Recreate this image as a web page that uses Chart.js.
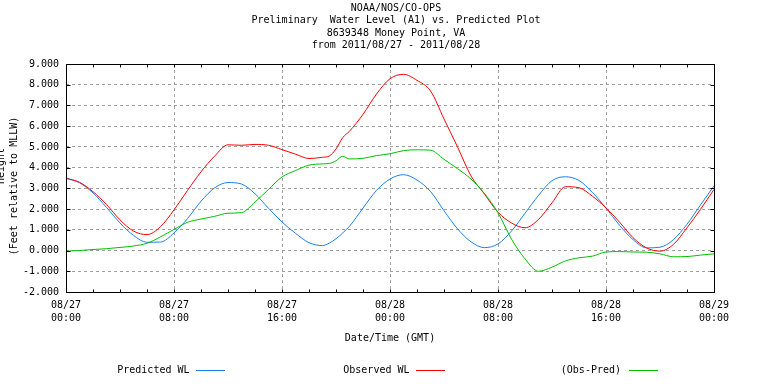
<!DOCTYPE html>
<html><head><meta charset="utf-8">
<script src="https://cdn.jsdelivr.net/npm/chart.js@4/dist/chart.umd.min.js"></script>
<style>html,body{margin:0;padding:0;background:#fff;overflow:hidden}#wrap{width:768px;height:384px}</style>
</head><body><div id="wrap"><canvas id="c" width="768" height="384"></canvas></div>
<script>
// hours since 2011/08/27 00:00 GMT
const hours = [0,1,2,3,4,5,6,7,8,9,10,11,12,13,14,15,16,17,18,19,19.5,20,20.5,21,22,23,24,25,26,27,28,29,30,31,32,33,34,35,36,37,38,39,40,41,42,43,44,45,46,47,48];
const predicted = [3.51,3.27,2.78,2.08,1.33,0.73,0.40,0.41,0.85,1.54,2.38,3.02,3.28,3.21,2.74,2.04,1.38,0.83,0.38,0.24,0.36,0.57,0.85,1.17,2.05,2.90,3.45,3.66,3.40,2.85,1.92,1.05,0.42,0.14,0.32,0.94,1.80,2.66,3.37,3.56,3.38,2.80,2.05,1.22,0.53,0.13,0.16,0.53,1.27,2.20,3.12];
const observed = [3.48,3.29,2.84,2.22,1.48,0.94,0.77,1.15,1.96,2.90,3.80,4.55,5.10,5.08,5.12,5.08,4.87,4.65,4.44,4.50,4.56,4.90,5.45,5.76,6.57,7.55,8.29,8.50,8.21,7.70,6.35,5.00,3.60,2.72,1.85,1.33,1.10,1.50,2.30,3.08,3.03,2.62,2.06,1.37,0.62,0.13,-0.03,0.30,1.10,1.99,2.95];
const obsMinusPred = [-0.03,0.00,0.05,0.09,0.15,0.22,0.35,0.66,1.02,1.36,1.52,1.65,1.80,1.83,2.34,2.95,3.55,3.86,4.12,4.18,4.20,4.33,4.55,4.42,4.45,4.58,4.67,4.82,4.86,4.84,4.40,3.95,3.45,2.75,1.82,0.55,-0.40,-1.00,-0.80,-0.50,-0.35,-0.27,-0.07,-0.05,-0.07,-0.08,-0.16,-0.30,-0.29,-0.22,-0.16];
const tickDates = ["08/27","08/27","08/27","08/28","08/28","08/28","08/29"];
const tickTimes = ["00:00","08:00","16:00","00:00","08:00","16:00","00:00"];
const titleLines = ["NOAA/NOS/CO-OPS","Preliminary  Water Level (A1) vs. Predicted Plot","8639348 Money Point, VA","from 2011/08/27 - 2011/08/28"];
const seriesNames = ["Predicted WL","Observed WL","(Obs-Pred)"];
const seriesColors = ["#1a80f0","#ff0000","#00c000"];
const yTitleLines = ["Height","(Feet relative to MLLW)"];
const xTitle = "Date/Time (GMT)";

const FONT = '"DejaVu Sans Mono", "Liberation Mono", monospace';
const pts = arr => hours.map((h,i)=>({x:h,y:arr[i]}));

const decor = {
  id:'decor',
  afterDatasetsDraw(chart){
    const ctx = chart.ctx, a = chart.chartArea, xs = chart.scales.x, ys = chart.scales.y;
    ctx.save();
    ctx.strokeStyle = '#000'; ctx.lineWidth = 1; ctx.setLineDash([]);
    const L = Math.round(a.left)+0.5, R = Math.round(a.right)+0.5, T = Math.round(a.top)+0.5, B = Math.round(a.bottom)+0.5;
    ctx.strokeRect(L, T, R-L, B-T);
    ctx.beginPath();
    for (let h=0; h<=48; h+=2){
      const px = Math.round(xs.getPixelForValue(h))+0.5;
      ctx.moveTo(px,B); ctx.lineTo(px,B-3);
      ctx.moveTo(px,T); ctx.lineTo(px,T+3);
    }
    for (let v=-2; v<=9; v++){
      const py = Math.round(ys.getPixelForValue(v))+0.5;
      ctx.moveTo(L,py); ctx.lineTo(L+4,py);
      ctx.moveTo(R,py); ctx.lineTo(R-4,py);
    }
    ctx.stroke();
    ctx.restore();
  },
  afterDraw(chart){
    const ctx = chart.ctx;
    ctx.save();
    ctx.fillStyle = '#000';
    ctx.font = '10px ' + FONT;
    ctx.textAlign = 'center'; ctx.textBaseline = 'middle';
    const ty = [8, 20.5, 33, 45.5];
    titleLines.forEach((t,i)=>ctx.fillText(t, 396, ty[i]));
    ctx.fillText(xTitle, 390, 338);
    // y title (rotated)
    const yx = [1.5, 14], yy = [166, 186];
    yTitleLines.forEach((t,i)=>{
      ctx.save(); ctx.translate(yx[i], yy[i]); ctx.rotate(-Math.PI/2);
      ctx.fillText(t, 0, 0); ctx.restore();
    });
    // legend
    const textEnd = [189.5, 409.5, 621], lineStart = [196, 416, 629];
    ctx.textAlign = 'right';
    seriesNames.forEach((n,i)=>{
      ctx.fillStyle = '#000';
      ctx.fillText(n, textEnd[i], 370.5);
      ctx.strokeStyle = seriesColors[i]; ctx.lineWidth = 1;
      ctx.beginPath(); ctx.moveTo(lineStart[i], 370.5); ctx.lineTo(lineStart[i]+29, 370.5); ctx.stroke();
    });
    ctx.restore();
  }
};

const mkDs = (label, arr, color, order) => ({
  label, data: pts(arr), borderColor: color, backgroundColor: color,
  borderWidth: 1, pointRadius: 0, fill: false, order,
  cubicInterpolationMode: 'monotone'
});

new Chart(document.getElementById('c'), {
  type: 'line',
  data: { datasets: [
    mkDs(seriesNames[0], predicted, seriesColors[0], 3),
    mkDs(seriesNames[1], observed, seriesColors[1], 2),
    mkDs(seriesNames[2], obsMinusPred, seriesColors[2], 1)
  ]},
  options: {
    responsive: false, animation: false, devicePixelRatio: 1,
    layout: { padding: { left: 0, right: 54, top: 64, bottom: 0 } },
    plugins: { legend: { display: false }, title: { display: false }, tooltip: { enabled: false } },
    scales: {
      x: {
        type: 'linear', min: 0, max: 48,
        ticks: { stepSize: 8, autoSkip: false, maxRotation: 0, padding: 7, color: '#000',
          font: { family: FONT, size: 10, lineHeight: 1.3 },
          callback: v => [tickDates[v/8], tickTimes[v/8]] },
        grid: { color: '#a0a0a0', drawTicks: false, lineWidth: 1 },
        border: { display: false, dash: [3,3] },
        afterFit: s => { s.height = 92; }
      },
      y: {
        min: -2, max: 9,
        ticks: { stepSize: 1, padding: 7, color: '#000',
          font: { family: FONT, size: 10 },
          callback: v => v.toFixed(3) },
        grid: { color: '#a0a0a0', drawTicks: false, lineWidth: 1 },
        border: { display: false, dash: [3,3] },
        afterFit: s => { s.width = 66; }
      }
    }
  },
  plugins: [decor]
});
</script></body></html>
